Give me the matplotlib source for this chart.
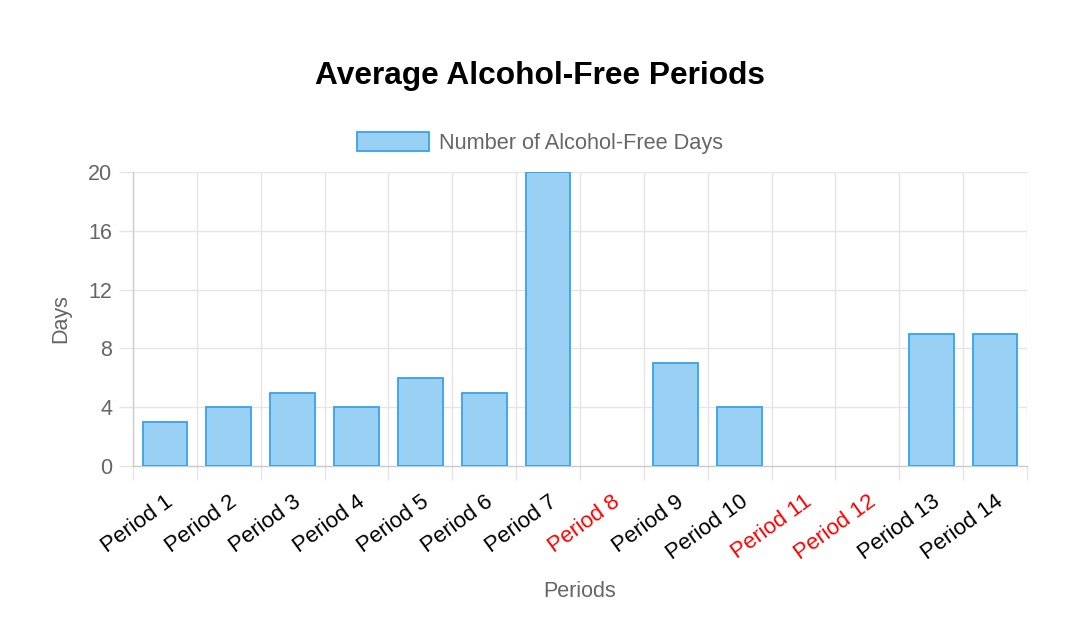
import matplotlib
matplotlib.use("Agg")
import matplotlib.pyplot as plt
from matplotlib.patches import Patch
import numpy as np

# chart values
periods = ["Period %d" % i for i in range(1, 15)]
days = [3, 4, 5, 4, 6, 5, 20, 0, 7, 4, 0, 0, 9, 9]
y_ticks = [0, 4, 8, 12, 16, 20]

plt.rcParams['font.family'] = ['Liberation Sans', 'DejaVu Sans']

fill = '#9BD0F5'
edge = '#36A2EB'
grid_c = '#e5e5e5'
text_gray = '#666666'

fig = plt.figure(figsize=(10.8, 6.42), dpi=100)
ax = fig.add_axes([133 / 1080, 1 - 466 / 642, (1027 - 133) / 1080, (466 - 172) / 642])

x = np.arange(len(periods))
# empty periods get no outline, like the original
widths = [1.3 if v > 0 else 0 for v in days]
ax.bar(x, days, width=0.7, color=fill, edgecolor=edge, linewidth=widths, zorder=3)

ax.set_xlim(-0.5, len(periods) - 0.5)
ax.set_ylim(0, 20)

# vertical grid at category boundaries (Chart.js offset grid)
ax.set_xticks(np.arange(-0.5, len(periods), 1.0), minor=True)
ax.set_xticks(x)
ax.set_xticklabels(periods, rotation=36, ha='right', va='top',
                   rotation_mode='anchor', fontsize=16)
for lbl, v in zip(ax.get_xticklabels(), days):
    lbl.set_color('red' if v == 0 else 'black')
ax.tick_params(axis='x', which='major', length=0, pad=18)
ax.tick_params(axis='x', which='minor', length=10, color=grid_c, width=1)
ax.grid(axis='x', which='minor', color=grid_c, linewidth=1, zorder=0)

ax.set_yticks(y_ticks)
ax.tick_params(axis='y', length=10, color=grid_c, width=1, labelsize=15.5,
               labelcolor=text_gray, pad=5)
ax.grid(axis='y', which='major', color=grid_c, linewidth=1, zorder=0)

for side in ['top', 'right']:
    ax.spines[side].set_visible(False)
for side in ['left', 'bottom']:
    ax.spines[side].set_color('#cccccc')
    ax.spines[side].set_linewidth(1)

ax.set_xlabel("Periods", fontsize=15.5, color=text_gray, labelpad=12)
ax.set_ylabel("Days", fontsize=15.5, color=text_gray, labelpad=12)

fig.text(0.5, 1 - 76 / 642, "Average Alcohol-Free Periods", ha='center', va='center',
         fontsize=22.8, fontweight='bold', color='black')

handle = Patch(facecolor=fill, edgecolor=edge, linewidth=1.3)
fig.legend([handle], ["Number of Alcohol-Free Days"], loc='center',
           bbox_to_anchor=(0.5, 1 - 143 / 642), frameon=False, fontsize=15.7,
           handlelength=3.3, handleheight=1.0, handletextpad=0.5,
           labelcolor=text_gray)

fig.savefig("out.png", dpi=100)
